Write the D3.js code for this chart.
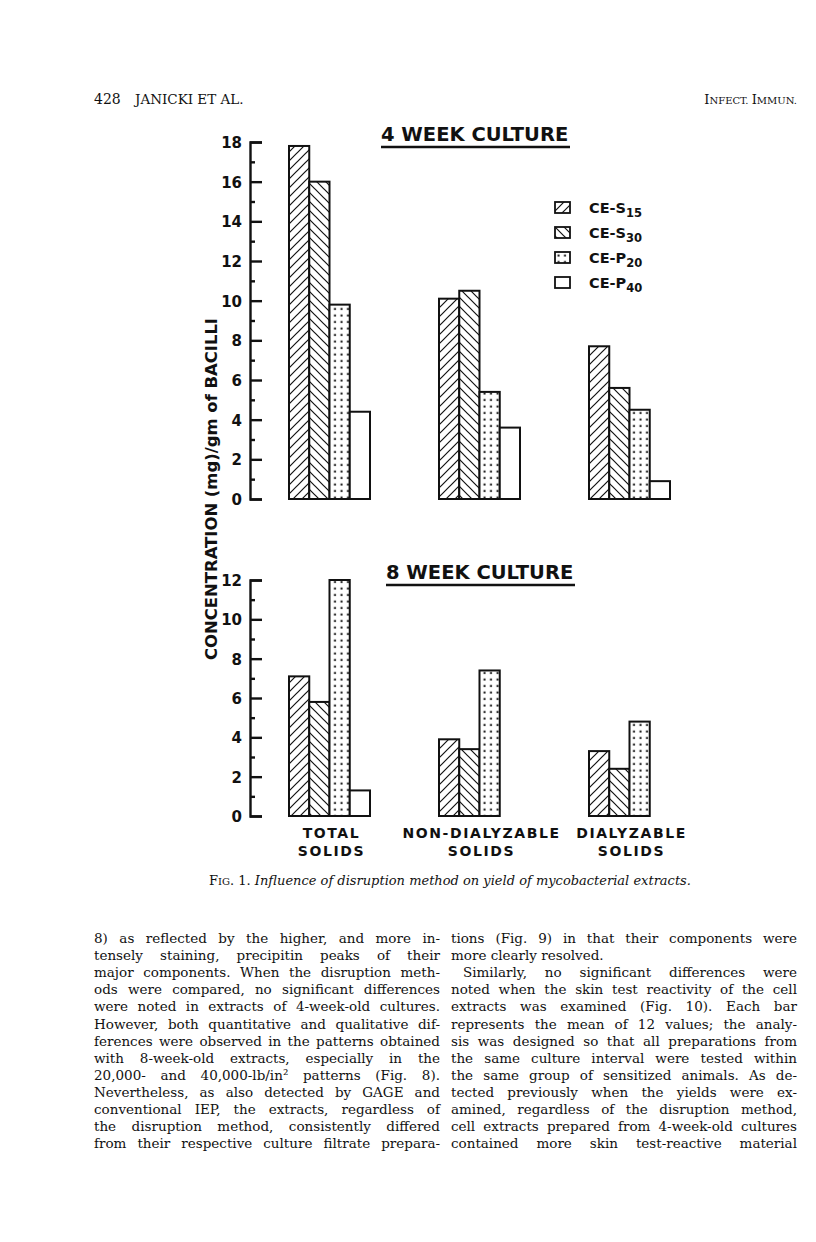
<!DOCTYPE html>
<html>
<head>
<meta charset="utf-8">
<script src="https://cdn.jsdelivr.net/npm/d3@7"></script>
<style>
  body { margin: 0; background: #fff; }
  svg text { fill: #111; }
</style>
</head>
<body>
<svg id="page" width="816" height="1242"></svg>
<script>
// ---- data ----
var categories = ["TOTAL SOLIDS", "NON-DIALYZABLE SOLIDS", "DIALYZABLE SOLIDS"];
var catLine1 = ["TOTAL", "NON-DIALYZABLE", "DIALYZABLE"];
var catLine2 = ["SOLIDS", "SOLIDS", "SOLIDS"];

var seriesNames = ["CE-S15", "CE-S30", "CE-P20", "CE-P40"];
var seriesStem = ["CE-S", "CE-S", "CE-P", "CE-P"];
var seriesSub = ["15", "30", "20", "40"];

// 4 week culture (mg/gm of bacilli), in category order
var week4S15 = [17.8, 10.1, 7.7];
var week4S30 = [16.0, 10.5, 5.6];
var week4P20 = [9.8, 5.4, 4.5];
var week4P40 = [4.4, 3.6, 0.9];

// 8 week culture
var week8S15 = [7.1, 3.9, 3.3];
var week8S30 = [5.8, 3.4, 2.4];
var week8P20 = [12.0, 7.4, 4.8];
var week8P40 = [1.3, null, null];

var week4Ticks = [0, 2, 4, 6, 8, 10, 12, 14, 16, 18];
var week8Ticks = [0, 2, 4, 6, 8, 10, 12];

var leftColumn = [
  "8) as reflected by the higher, and more in-",
  "tensely staining, precipitin peaks of their",
  "major components. When the disruption meth-",
  "ods were compared, no significant differences",
  "were noted in extracts of 4-week-old cultures.",
  "However, both quantitative and qualitative dif-",
  "ferences were observed in the patterns obtained",
  "with 8-week-old extracts, especially in the",
  "20,000- and 40,000-lb/in\u00b2 patterns (Fig. 8).",
  "Nevertheless, as also detected by GAGE and",
  "conventional IEP, the extracts, regardless of",
  "the disruption method, consistently differed",
  "from their respective culture filtrate prepara-"
];
var rightColumn = [
  "tions (Fig. 9) in that their components were",
  "more clearly resolved.",
  "Similarly, no significant differences were",
  "noted when the skin test reactivity of the cell",
  "extracts was examined (Fig. 10). Each bar",
  "represents the mean of 12 values; the analy-",
  "sis was designed so that all preparations from",
  "the same culture interval were tested within",
  "the same group of sensitized animals. As de-",
  "tected previously when the yields were ex-",
  "amined, regardless of the disruption method,",
  "cell extracts prepared from 4-week-old cultures",
  "contained more skin test-reactive material"
];

var ink = "#111";
var chartFont = "'DejaVu Sans', sans-serif";
var bookFont = "'DejaVu Serif', serif";

var svg = d3.select("#page");
var defs = svg.append("defs");

//patterns for the four extracts
var up = defs.append("pattern").attr("id", "hatchUp")
        .attr("patternUnits", "userSpaceOnUse").attr("width", 9).attr("height", 9);
up.append("rect").attr("width", 9).attr("height", 9).attr("fill", "#fff");
up.append("path").attr("d", "M-2,2L2,-2M0,9L9,0M7,11L11,7")
        .attr("stroke", ink).attr("stroke-width", 1.2);

var down = defs.append("pattern").attr("id", "hatchDown")
        .attr("patternUnits", "userSpaceOnUse").attr("width", 9).attr("height", 9);
down.append("rect").attr("width", 9).attr("height", 9).attr("fill", "#fff");
down.append("path").attr("d", "M-2,7L2,11M0,0L9,9M7,-2L11,2")
        .attr("stroke", ink).attr("stroke-width", 1.2);

var dots = defs.append("pattern").attr("id", "dots")
        .attr("patternUnits", "userSpaceOnUse").attr("width", 6.5).attr("height", 6.5);
dots.append("rect").attr("width", 6.5).attr("height", 6.5).attr("fill", "#fff");
dots.append("rect").attr("x", 2.5).attr("y", 2.5).attr("width", 2).attr("height", 2).attr("fill", ink);

var fills = ["url(#hatchUp)", "url(#hatchDown)", "url(#dots)", "#fff"];

var x = d3.scaleBand().domain(categories).range([289, 670]).paddingInner(0.46).paddingOuter(0);
var xs = d3.scaleBand().domain(seriesNames).range([0, x.bandwidth()]);

function drawPanel(values, ticks, yBottom, yTop, title, titleX, titleY) {
    var max = ticks[ticks.length - 1];
    var y = d3.scaleLinear().domain([0, max]).range([yBottom, yTop]);

    var bars = [];
    categories.forEach(function(c, ci) {
        seriesNames.forEach(function(s, si) {
            var v = values[si][ci];
            if (v !== null) bars.push({cat: c, series: s, si: si, v: v});
        });
    });

    svg.append("g").selectAll("rect")
            .data(bars)
            .enter().append("rect")
            .attr("x", function(d) { return x(d.cat) + xs(d.series); })
            .attr("y", function(d) { return y(d.v); })
            .attr("width", xs.bandwidth())
            .attr("height", function(d) { return y(0) - y(d.v); })
            .attr("fill", function(d) { return fills[d.si]; })
            .attr("stroke", ink)
            .attr("stroke-width", 2);

    //minor ticks on odd values
    var minor = svg.append("g").attr("transform", "translate(250,0)")
            .call(d3.axisLeft(y).tickValues(d3.range(1, max, 2)).tickSize(-5).tickFormat(""));
    minor.select(".domain").remove();

    var ax = svg.append("g").attr("transform", "translate(250,0)")
            .call(d3.axisLeft(y).tickValues(ticks).tickSize(-12).tickSizeOuter(-12)
                    .tickPadding(8).tickFormat(d3.format("d")));
    ax.attr("font-family", chartFont).attr("font-size", 15).attr("font-weight", "bold");
    ax.selectAll("text").attr("fill", ink).attr("dy", "0.36em");

    svg.selectAll(".domain, .tick line").attr("stroke", ink).attr("stroke-width", 2.4);

    svg.append("text")
            .attr("x", titleX).attr("y", titleY)
            .attr("font-family", chartFont).attr("font-size", 19.5).attr("font-weight", "bold")
            .text(title);
    svg.append("line")
            .attr("x1", titleX).attr("x2", titleX + 189)
            .attr("y1", titleY + 6).attr("y2", titleY + 6)
            .attr("stroke", ink).attr("stroke-width", 2.5);
}

drawPanel([week4S15, week4S30, week4P20, week4P40], week4Ticks, 499, 142, "4 WEEK CULTURE", 381, 141);
drawPanel([week8S15, week8S30, week8P20, week8P40], week8Ticks, 816, 580, "8 WEEK CULTURE", 386, 579);

//category labels under the lower panel
var cats = svg.append("g").attr("font-family", chartFont).attr("font-size", 14)
        .attr("font-weight", "bold").attr("letter-spacing", 1.6).attr("text-anchor", "middle");
cats.selectAll(".l1").data(categories).enter().append("text")
        .attr("x", function(d) { return x(d) + x.bandwidth() / 2 + 2; })
        .attr("y", 838)
        .text(function(d, i) { return catLine1[i]; });
cats.selectAll(".l2").data(categories).enter().append("text")
        .attr("x", function(d) { return x(d) + x.bandwidth() / 2 + 2; })
        .attr("y", 856)
        .text(function(d, i) { return catLine2[i]; });

//y axis title
svg.append("text")
        .attr("transform", "translate(217,489) rotate(-90)")
        .attr("text-anchor", "middle")
        .attr("font-family", chartFont).attr("font-size", 16.5).attr("font-weight", "bold")
        .attr("textLength", 342).attr("lengthAdjust", "spacingAndGlyphs")
        .text("CONCENTRATION (mg)/gm of BACILLI");

//legend
var leg = svg.append("g").selectAll("g")
        .data(seriesNames)
        .enter().append("g")
        .attr("transform", function(d, i) { return "translate(555," + (202 + i * 25) + ")"; });
leg.append("rect").attr("width", 15).attr("height", 11)
        .attr("fill", function(d, i) { return fills[i]; })
        .attr("stroke", ink).attr("stroke-width", 1.8);
var lt = leg.append("text").attr("x", 34).attr("y", 11)
        .attr("font-family", chartFont).attr("font-size", 14.5).attr("font-weight", "bold");
lt.append("tspan").text(function(d, i) { return seriesStem[i]; });
lt.append("tspan").attr("font-size", 11.5).attr("dy", 4).text(function(d, i) { return seriesSub[i]; });

// ---- page furniture ----
svg.append("text").attr("x", 94).attr("y", 104)
        .attr("font-family", bookFont).attr("font-size", 14).text("428");
svg.append("text").attr("x", 135).attr("y", 104)
        .attr("font-family", bookFont).attr("font-size", 13.5).text("JANICKI ET AL.");
var jn = svg.append("text").attr("x", 797).attr("y", 104).attr("text-anchor", "end")
        .attr("font-family", bookFont).attr("font-size", 13);
jn.append("tspan").text("I");
jn.append("tspan").attr("font-size", 10).text("NFECT. ");
jn.append("tspan").text("I");
jn.append("tspan").attr("font-size", 10).text("MMUN.");

var cap = svg.append("text").attr("x", 450).attr("y", 885).attr("text-anchor", "middle")
        .attr("font-family", bookFont).attr("font-size", 13);
cap.append("tspan").text("F");
cap.append("tspan").attr("font-size", 10).text("IG");
cap.append("tspan").text(". 1. ");
cap.append("tspan").attr("font-style", "italic")
        .text("Influence of disruption method on yield of mycobacterial extracts.");

//justified body columns
function column(lines, x0, width, y0, noJustify, indents) {
    var g = svg.append("g").attr("font-family", bookFont).attr("font-size", 13.5)
            .style("fill", "#000");
    lines.forEach(function(s, i) {
        var ind = indents[i] || 0;
        var t = g.append("text").attr("x", x0 + ind).attr("y", y0 + i * 17.1).text(s);
        if (noJustify[i]) return;
        var w = width - ind;
        var natural = t.node().getComputedTextLength();
        var gaps = s.split(" ").length - 1;
        if (natural > w || gaps === 0) {
            t.attr("textLength", w).attr("lengthAdjust", "spacingAndGlyphs");
        } else {
            t.attr("word-spacing", (w - natural) / gaps);
        }
    });
}
column(leftColumn, 94, 346, 943, {}, {});
column(rightColumn, 451, 346, 943, {1: true}, {2: 12});
</script>
</body>
</html>
